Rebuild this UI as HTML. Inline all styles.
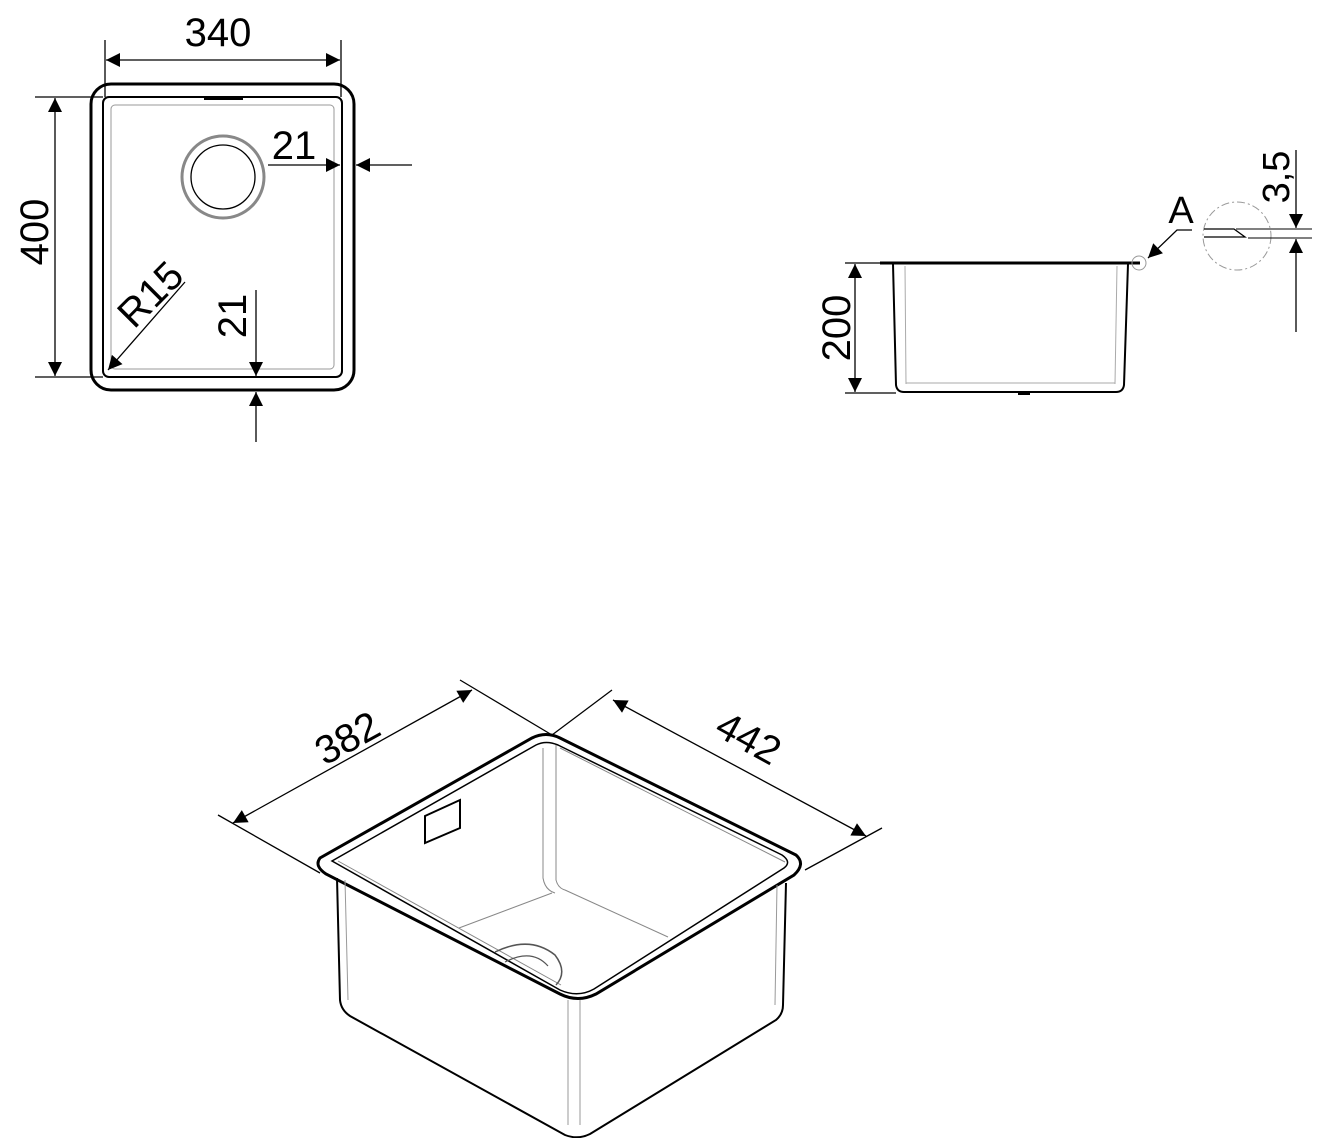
<!DOCTYPE html>
<html><head><style>
html,body{margin:0;padding:0;background:#fff;}
svg{display:block;}
text{font-family:"Liberation Sans",sans-serif;fill:#000;}
</style></head><body>
<svg width="1330" height="1138" viewBox="0 0 1330 1138" xmlns="http://www.w3.org/2000/svg">
<defs>
<marker id="a" viewBox="0 0 10 10" refX="10" refY="5" markerWidth="24" markerHeight="14" markerUnits="userSpaceOnUse" orient="auto-start-reverse"><path d="M0,0 L10,5 L0,10z" fill="#000"/></marker>
</defs>
<g fill="none" stroke="#000">
<!-- top view -->
<rect x="91" y="84" width="263" height="306" rx="20" stroke-width="3"/>
<rect x="103" y="97" width="239" height="280" rx="6" stroke-width="2"/>
<rect x="111" y="105" width="223" height="264" rx="4" stroke="#999" stroke-width="1"/>
<line x1="204" y1="99" x2="243" y2="99" stroke-width="2"/>
<circle cx="223" cy="177" r="41" stroke="#888" stroke-width="3"/>
<circle cx="223" cy="177" r="32" stroke-width="1.3"/>
<line x1="105" y1="40" x2="105" y2="97" stroke-width="1.3"/>
<line x1="341" y1="40" x2="341" y2="97" stroke-width="1.3"/>
<line x1="106" y1="60" x2="340" y2="60" stroke-width="1.3" marker-start="url(#a)" marker-end="url(#a)"/>
<line x1="35" y1="97" x2="103" y2="97" stroke-width="1.3"/>
<line x1="35" y1="377" x2="103" y2="377" stroke-width="1.3"/>
<line x1="55" y1="98" x2="55" y2="376" stroke-width="1.3" marker-start="url(#a)" marker-end="url(#a)"/>
<line x1="268" y1="165" x2="340" y2="165" stroke-width="1.3" marker-end="url(#a)"/>
<line x1="412" y1="165" x2="356" y2="165" stroke-width="1.3" marker-end="url(#a)"/>
<line x1="185" y1="282" x2="108" y2="370" stroke-width="1.3" marker-end="url(#a)"/>
<line x1="256" y1="290" x2="256" y2="376" stroke-width="1.3" marker-end="url(#a)"/>
<line x1="256" y1="442" x2="256" y2="392" stroke-width="1.3" marker-end="url(#a)"/>
<!-- side view -->
<line x1="880" y1="263" x2="1140" y2="263" stroke-width="3"/>
<path d="M893,264 L896,385 Q897,392 904,392 L1116,392 Q1123,392 1124,385 L1128,264" stroke-width="2"/>
<path d="M905,266 L906,384 M1117,266 L1115,384 M906,383 L1115,383" stroke="#aaa" stroke-width="1"/>
<line x1="1018" y1="394" x2="1030" y2="394" stroke-width="2"/>
<circle cx="1139" cy="263" r="7" stroke="#999" stroke-width="1"/>
<line x1="845" y1="263" x2="893" y2="263" stroke-width="1.3"/>
<line x1="845" y1="393" x2="896" y2="393" stroke-width="1.3"/>
<line x1="855" y1="264" x2="855" y2="392" stroke-width="1.3" marker-start="url(#a)" marker-end="url(#a)"/>
<polyline points="1192,230 1177,230 1148,258" stroke-width="1.3" marker-end="url(#a)"/>
<circle cx="1237" cy="236" r="34" stroke="#999" stroke-width="1" stroke-dasharray="8,3,2,3"/>
<path d="M1204,229 L1234,229 L1245,237 L1204,237" stroke-width="1.3"/>
<line x1="1236" y1="229" x2="1312" y2="229" stroke-width="1"/>
<line x1="1248" y1="238" x2="1312" y2="238" stroke-width="1"/>
<line x1="1296" y1="150" x2="1296" y2="228" stroke-width="1.3" marker-end="url(#a)"/>
<line x1="1296" y1="332" x2="1296" y2="239" stroke-width="1.3" marker-end="url(#a)"/>
<!-- 3D view -->
<path d="M320,858 Q314,866 326,874 L560,994 Q578,1003 596,994 L794,875 Q806,864 796,855 L560,738 Q546,731 532,738 Z" stroke-width="3"/>
<path d="M332,861 L560,990 Q578,998 594,989 L784,868 Q792,862 782,855 L558,745 Q546,740 536,745 Z" stroke-width="1.5"/>
<path d="M338,861 L561,985 M785,862 L560,748" stroke="#888" stroke-width="1"/>
<path d="M337,878 L340,1000 Q341,1010 350,1016 L565,1135 Q578,1140 590,1134 L776,1020 Q783,1014 783,1005 L786,883" stroke-width="2"/>
<path d="M345,880 L348,1000 M777,885 L775,1005 M568,1000 L568,1125 M580,1000 L580,1125" stroke="#999" stroke-width="1"/>
<path d="M543,748 L543,878 Q545,890 555,893 M556,745 L556,880 Q558,888 565,890 M552,893 L459,928 M565,890 L668,937" stroke="#888" stroke-width="1"/>
<path d="M425,816 L460,800 L460,828 L425,843 Z" stroke-width="2"/>
<path d="M495,952 Q530,935 555,955 Q568,972 556,985" stroke="#555" stroke-width="1.5"/>
<path d="M505,962 Q532,948 548,966" stroke="#555" stroke-width="1.2"/>
<path d="M218,815 L320,873" stroke-width="1.3"/>
<path d="M460,680 L552,735" stroke-width="1.3"/>
<line x1="233" y1="823" x2="472" y2="690" stroke-width="1.3" marker-start="url(#a)" marker-end="url(#a)"/>
<path d="M552,735 L612,690" stroke-width="1.3"/>
<path d="M805,870 L882,828" stroke-width="1.3"/>
<line x1="613" y1="700" x2="866" y2="836" stroke-width="1.3" marker-start="url(#a)" marker-end="url(#a)"/>
</g>
<text x="218" y="46" font-size="40" text-anchor="middle">340</text>
<text transform="translate(48,232) rotate(-90)" font-size="40" text-anchor="middle">400</text>
<text x="294" y="159" font-size="40" text-anchor="middle">21</text>
<text transform="translate(246,316) rotate(-90)" font-size="40" text-anchor="middle">21</text>
<text transform="translate(160,304) rotate(-45)" font-size="40" text-anchor="middle">R15</text>
<text transform="translate(850,328) rotate(-90)" font-size="40" text-anchor="middle">200</text>
<text x="1181" y="223" font-size="38" text-anchor="middle">A</text>
<text transform="translate(1289,177) rotate(-90)" font-size="38" text-anchor="middle">3,5</text>
<text transform="translate(354,750) rotate(-29)" font-size="40" text-anchor="middle">382</text>
<text transform="translate(742,750) rotate(29)" font-size="40" text-anchor="middle">442</text>
</svg>
</body></html>
